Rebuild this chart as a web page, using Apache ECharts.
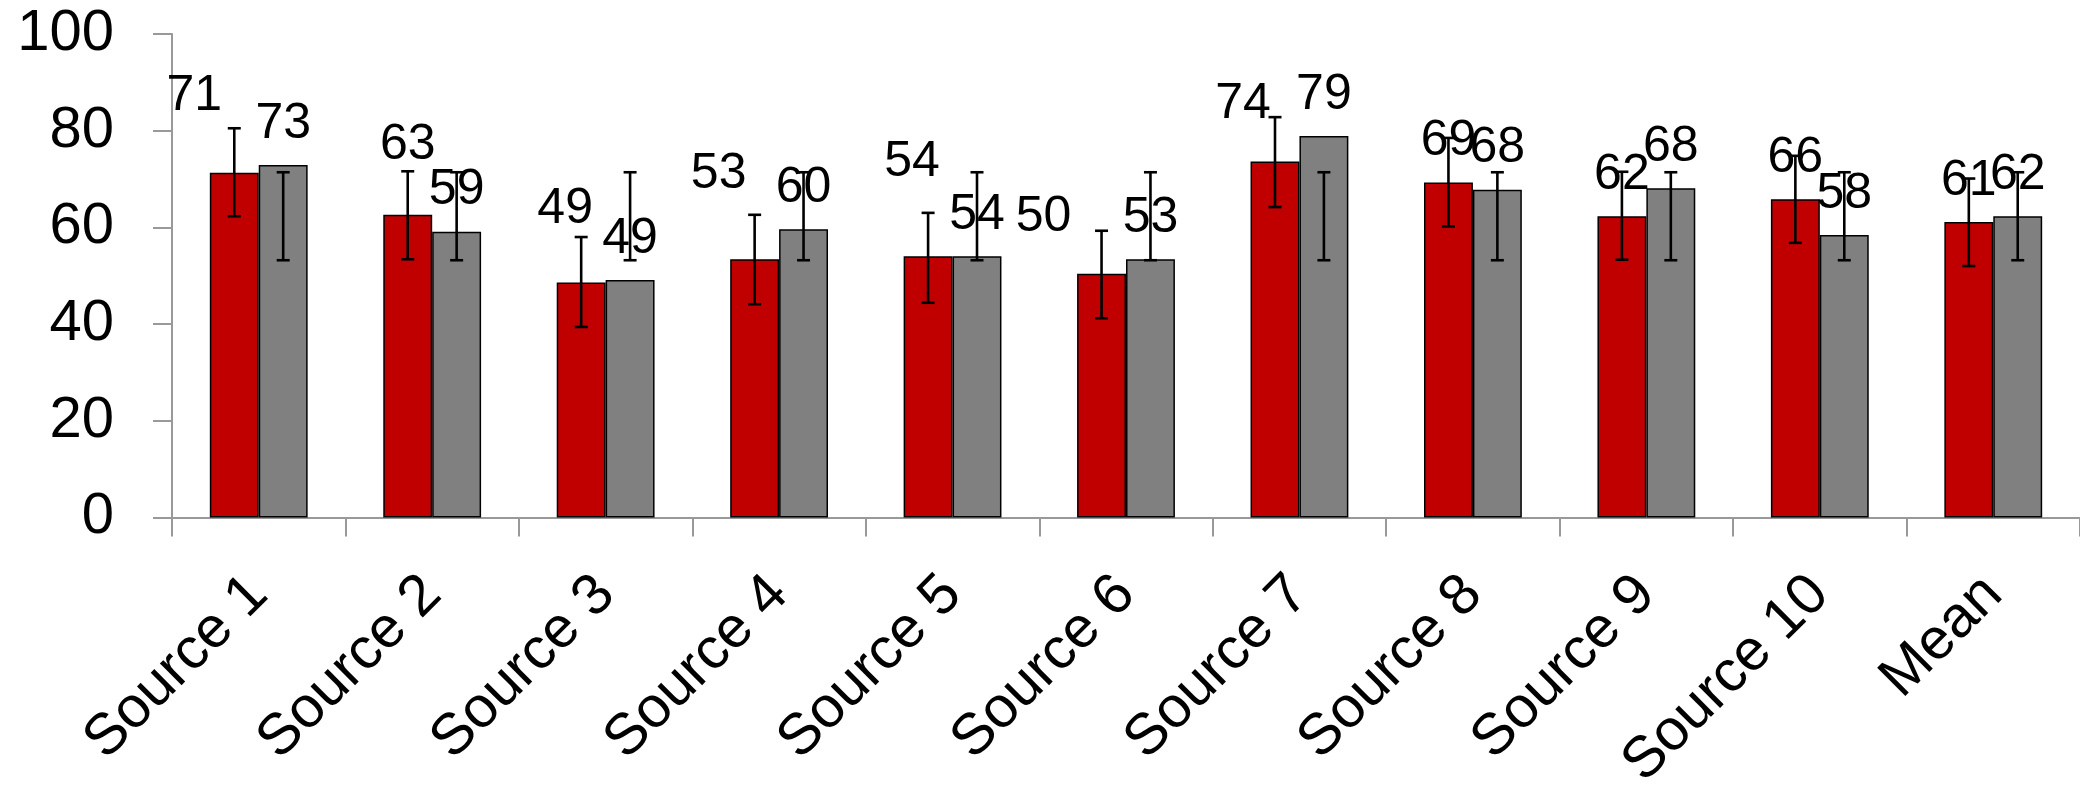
<!DOCTYPE html>
<html>
<head>
<meta charset="utf-8">
<script src="https://cdn.jsdelivr.net/npm/echarts@6/dist/echarts.min.js"></script>
<style>
  html, body { margin: 0; padding: 0; background: #fff; }
  #chart { width: 2080px; height: 795px; }
</style>
</head>
<body>
<div id="chart"></div>
<script>
// ---- data ----
const categories = ['Source 1', 'Source 2', 'Source 3', 'Source 4', 'Source 5', 'Source 6', 'Source 7', 'Source 8', 'Source 9', 'Source 10', 'Mean'];
const redValues  = [71.3, 62.6, 48.6, 53.4, 54.0, 50.4, 73.6, 69.3, 62.3, 65.8, 61.1];
const greyValues = [72.9, 59.1, 49.1, 59.6, 54.0, 53.4, 78.9, 67.8, 68.1, 58.4, 62.3];
const redErrLow  = [62.3, 53.4, 39.4, 44.1, 44.4, 41.2, 64.2, 60.2, 53.3, 56.8, 52.0];
const redErrHigh = [80.5, 71.6, 58.0, 62.6, 63.0, 59.3, 82.8, 78.5, 71.5, 74.8, 70.1];
const greyErrLow  = [53.2, 53.2, 53.2, 53.2, 53.2, 53.2, 53.2, 53.2, 53.2, 53.2, 53.2];
const greyErrHigh = [71.4, 71.4, 71.4, 71.4, 71.4, 71.4, 71.4, 71.4, 71.4, 71.4, 71.4];
const yTicks = { min: 0, max: 100, interval: 20 };

// ---- style ----
const RED = '#C00000';
const GREY = '#808080';
const AXIS_COLOR = '#999999';
const CAT_GAP = 0.436;
const FONT = '"Liberation Sans", Arial, sans-serif';
// manual shifts of the red data labels (px), as in the source chart
const redLabelShift = [[-40, -36], [0, -29], [-16, -32], [-36, -44], [-16, -53], [-58, -16], [-32, -16], [0, 0], [0, 0], [0, 0], [0, 0]];

const chart = echarts.init(document.getElementById('chart'), null, { renderer: 'canvas' });

function errSeries(low, high, side) {
  return {
    type: 'custom',
    z: 10,
    silent: true,
    encode: { x: 0, y: [1, 2] },
    data: categories.map((c, i) => [i, low[i], high[i]]),
    renderItem: function (params, api) {
      const xi = api.value(0);
      const pLow = api.coord([xi, api.value(1)]);
      const pHigh = api.coord([xi, api.value(2)]);
      const band = api.size([1, 0])[0];
      const barW = band * (1 - CAT_GAP) / 2;
      const cx = pLow[0] + side * barW / 2;
      const cap = 6.5;
      const st = { stroke: '#000', lineWidth: 2.6 };
      return {
        type: 'group',
        children: [
          { type: 'line', shape: { x1: cx, y1: pHigh[1], x2: cx, y2: pLow[1] }, style: st },
          { type: 'line', shape: { x1: cx - cap, y1: pHigh[1], x2: cx + cap, y2: pHigh[1] }, style: st },
          { type: 'line', shape: { x1: cx - cap, y1: pLow[1], x2: cx + cap, y2: pLow[1] }, style: st }
        ]
      };
    }
  };
}

const labelBase = {
  show: true,
  position: 'top',
  distance: 16,
  color: '#000',
  fontSize: 50,
  fontFamily: FONT,
  formatter: p => Math.round(p.value)
};

const option = {
  animation: false,
  backgroundColor: '#fff',
  grid: { left: 172, right: -4, top: 34, bottom: 273, containLabel: false },
  xAxis: {
    type: 'category',
    data: categories,
    axisLine: { lineStyle: { color: AXIS_COLOR, width: 2 } },
    axisTick: { show: true, length: 19, lineStyle: { color: AXIS_COLOR, width: 2 } },
    axisLabel: {
      rotate: 45,
      margin: 68,
      color: '#000',
      fontSize: 58,
      fontFamily: FONT,
      interval: 0
    },
    splitLine: { show: false }
  },
  yAxis: {
    type: 'value',
    min: yTicks.min,
    max: yTicks.max,
    interval: yTicks.interval,
    axisLine: { show: true, lineStyle: { color: AXIS_COLOR, width: 2 } },
    axisTick: { show: true, length: 19, lineStyle: { color: AXIS_COLOR, width: 2 } },
    axisLabel: { margin: 58, color: '#000', fontSize: 58, fontFamily: FONT },
    splitLine: { show: false }
  },
  series: [
    {
      type: 'bar',
      z: 2,
      barGap: '0%',
      barCategoryGap: (CAT_GAP * 100) + '%',
      itemStyle: { color: RED, borderColor: '#000', borderWidth: 1.5 },
      label: labelBase,
      data: redValues.map((v, i) => ({ value: v, label: { offset: redLabelShift[i] } }))
    },
    {
      type: 'bar',
      z: 2,
      barGap: '0%',
      barCategoryGap: (CAT_GAP * 100) + '%',
      itemStyle: { color: GREY, borderColor: '#000', borderWidth: 1.5 },
      label: labelBase,
      data: greyValues
    },
    errSeries(redErrLow, redErrHigh, -1),
    errSeries(greyErrLow, greyErrHigh, 1)
  ]
};

chart.setOption(option);
</script>
</body>
</html>
